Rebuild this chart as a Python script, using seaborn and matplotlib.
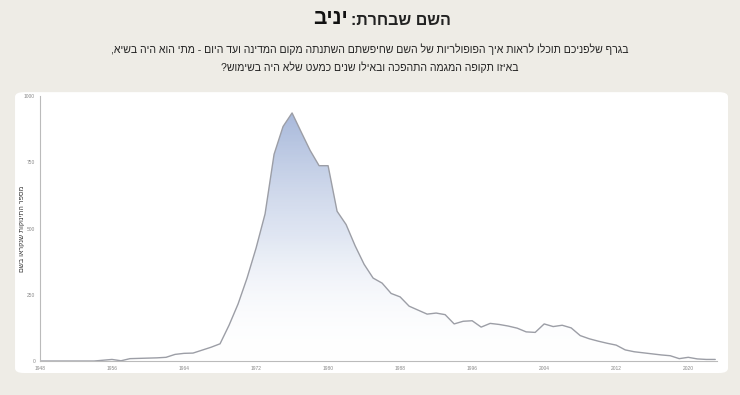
import numpy as np
import matplotlib.pyplot as plt
import matplotlib as mpl
import seaborn as sns
from matplotlib.patches import FancyBboxPatch

sns.set_style('white')
mpl.rcParams['font.family'] = ['Liberation Sans', 'DejaVu Sans']

# data (babies named per year)
years = list(range(1948, 2024))
counts = [0, 0, 0, 0, 0, 0, 0, 3, 6, 1,
          9, 10, 11, 12, 14, 25, 29, 30, 41, 52,
          65, 135, 215, 313, 426, 555, 780, 885, 936, 865,
          795, 737, 737, 565, 515, 435, 365, 313, 294, 255,
          242, 207, 192, 177, 181, 175, 140, 150, 152, 128,
          142, 138, 132, 124, 110, 108, 140, 130, 135, 125,
          96, 84, 75, 67, 60, 42, 35, 31, 27, 23,
          20, 9, 14, 8, 6, 6]
x_ticks = list(range(1948, 2024, 8))
y_ticks = [0, 250, 500, 750, 1000]

title_label = 'השם שבחרת:'
title_name = 'יניב'
sub1 = 'בגרף שלפניכם תוכלו לראות איך הפופולריות של השם שחיפשתם השתנתה מקום המדינה ועד היום - מתי הוא היה בשיא,'
sub2 = 'באיזו תקופה המגמה התהפכה ובאילו שנים כמעט שלא היה בשימוש?'
y_label = 'מספר התינוקות שנקראו בשם'


def heb(s):
    # matplotlib has no bidi support, so flip the Hebrew to visual order
    return s[::-1]


bg = '#eeece6'
fig = plt.figure(figsize=(7.4, 3.95), dpi=100, facecolor=bg)

# white card behind the chart
card = FancyBboxPatch((0.0203, 0.0557), 0.9635, 0.711,
                      boxstyle='round,pad=0,rounding_size=0.012',
                      transform=fig.transFigure, facecolor='white',
                      edgecolor='none', zorder=-5)
fig.patches.append(card)

ax = fig.add_axes([0.054, 0.086, 0.915, 0.671])
ax.set_facecolor('none')
ax.set_zorder(2)

# gradient fill under the curve
fill = ax.fill_between(years, counts, 0, facecolor='none', edgecolor='none')
grad = np.linspace(0, 1, 256).reshape(-1, 1)
cmap = mpl.colors.LinearSegmentedColormap.from_list(
    'g', [(1, 1, 1, 0), (0.80, 0.84, 0.92, 0.6), (0.64, 0.71, 0.85, 0.95)])
img = ax.imshow(grad, cmap=cmap, origin='lower', aspect='auto',
                extent=[years[0], years[-1], 0, max(counts)], zorder=1)
img.set_clip_path(fill.get_paths()[0], transform=ax.transData)

sns.lineplot(x=years, y=counts, color='#9c9ea6', linewidth=1.0, ax=ax, zorder=2)

ax.set_xlim(1948, 2023.2)
ax.set_ylim(0, 1000)
ax.set_xticks(x_ticks)
ax.set_yticks(y_ticks)
ax.tick_params(axis='both', labelsize=3.5, colors='#888888', length=2,
               width=0.6, pad=1.5, direction='out')
for s in ['top', 'right']:
    ax.spines[s].set_visible(False)
for s in ['left', 'bottom']:
    ax.spines[s].set_color('#bbbbbb')
    ax.spines[s].set_linewidth(0.8)
ax.set_xlabel('')
ax.set_ylabel('')

fig.text(0.030, 0.42, heb(y_label), rotation=90, ha='center', va='center',
         fontsize=5, color='#333333')

# titles
fig.text(0.470, 0.952, heb(title_name), ha='right', va='center',
         fontsize=15, fontweight='bold', color='#111111')
fig.text(0.474, 0.948, heb(title_label), ha='left', va='center',
         fontsize=11.5, fontweight='bold', color='#222222')
fig.text(0.5, 0.876, heb(sub1), ha='center', va='center',
         fontsize=7.6, color='#222222')
fig.text(0.5, 0.830, heb(sub2), ha='center', va='center',
         fontsize=7.6, color='#222222')

fig.savefig('out.png', dpi=100, facecolor=bg)
